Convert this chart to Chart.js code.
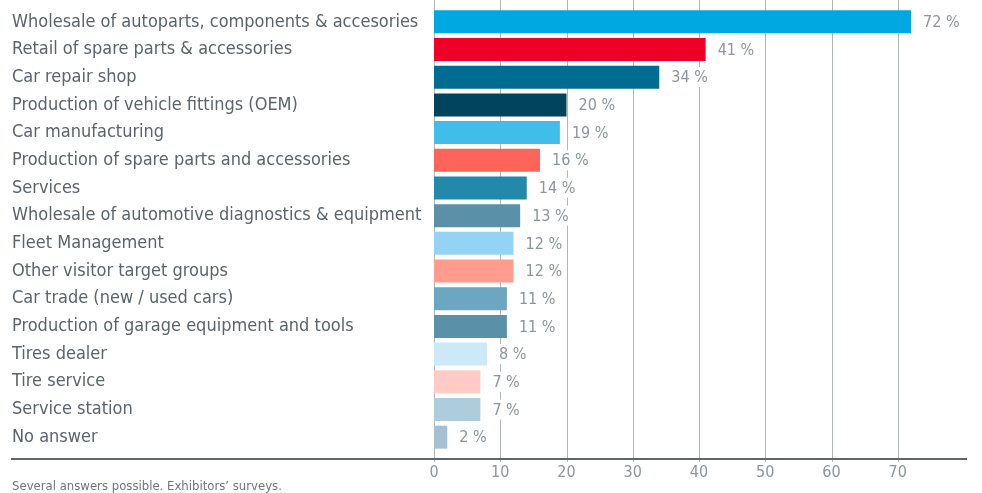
<!DOCTYPE html>
<html>
<head>
<meta charset="utf-8">
<script src="https://cdn.jsdelivr.net/npm/chart.js@4.4.1/dist/chart.umd.min.js"></script>
<style>
  html, body { margin: 0; padding: 0; background: #fff; }
  #wrap { width: 982px; height: 493px; position: relative; }
</style>
</head>
<body>
<div id="wrap"><canvas id="chart"></canvas></div>
<script>
const categories = [
    "Wholesale of autoparts, components & accesories",
    "Retail of spare parts & accessories",
    "Car repair shop",
    "Production of vehicle fittings (OEM)",
    "Car manufacturing",
    "Production of spare parts and accessories",
    "Services",
    "Wholesale of automotive diagnostics & equipment",
    "Fleet Management",
    "Other visitor target groups",
    "Car trade (new / used cars)",
    "Production of garage equipment and tools",
    "Tires dealer",
    "Tire service",
    "Service station",
    "No answer"
];
const shares = [72, 41, 34, 20, 19, 16, 14, 13, 12, 12, 11, 11, 8, 7, 7, 2];
const tickValues = [0, 10, 20, 30, 40, 50, 60, 70];
const footnote = "Several answers possible. Exhibitors’ surveys.";

const barColors = [
    "#00a8e1", "#ef0027", "#006c91", "#00445e", "#40bde9", "#ff645a",
    "#2389aa", "#5a91a8", "#94d3f2", "#ff9c8e", "#6ca6c1", "#5a91a8",
    "#cce9f7", "#ffcbc4", "#adccdc", "#a5c0d0"
];

const FONT = '"Liberation Sans Narrow", "DejaVu Sans Condensed", "Arial Narrow", sans-serif';

// grid lines, value labels, axis line and footnote
const decor = {
    id: "decor",
    beforeDatasetsDraw(chart) {
        const { ctx, scales: { x } } = chart;
        ctx.save();
        ctx.strokeStyle = "#b1b6ba";
        ctx.lineWidth = 1;
        x.ticks.forEach(t => {
            const px = Math.round(x.getPixelForValue(t.value)) + 0.5;
            ctx.beginPath();
            ctx.moveTo(px, 0);
            ctx.lineTo(px, chart.chartArea.bottom + 11);
            ctx.stroke();
        });
        ctx.restore();
    },
    afterDatasetsDraw(chart) {
        const { ctx, chartArea } = chart;
        const meta = chart.getDatasetMeta(0);
        ctx.save();
        ctx.font = `16px ${FONT}`;
        ctx.textBaseline = "middle";
        meta.data.forEach((bar, i) => {
            const txt = shares[i] + " %";
            const w = ctx.measureText(txt).width;
            const tx = bar.x + 12;
            ctx.fillStyle = "#fff";
            ctx.fillRect(tx - 3, bar.y - 10, w + 6, 20);
            ctx.fillStyle = "#8b959b";
            ctx.fillText(txt, tx, bar.y + 1);
        });

        ctx.strokeStyle = "#5c666b";
        ctx.lineWidth = 2;
        ctx.beginPath();
        ctx.moveTo(11, chartArea.bottom + 8);
        ctx.lineTo(chartArea.right + 3, chartArea.bottom + 8);
        ctx.stroke();

        ctx.font = `13px ${FONT}`;
        ctx.textBaseline = "alphabetic";
        ctx.fillStyle = "#6c767c";
        ctx.fillText(footnote, 12, 490);
        ctx.restore();
    }
};

new Chart(document.getElementById("chart"), {
    type: "bar",
    data: {
        labels: categories,
        datasets: [{
            data: shares,
            backgroundColor: barColors,
            categoryPercentage: 1,
            barPercentage: 0.83
        }]
    },
    options: {
        indexAxis: "y",
        responsive: true,
        maintainAspectRatio: false,
        animation: false,
        layout: { padding: { top: 8, left: 12, right: 18, bottom: 0 } },
        plugins: {
            legend: { display: false },
            tooltip: { enabled: false }
        },
        scales: {
            x: {
                type: "linear",
                min: 0,
                max: 80,
                grid: { display: false, drawTicks: false },
                border: { display: false },
                afterBuildTicks: scale => { scale.ticks = tickValues.map(v => ({ value: v })); },
                afterFit: scale => { scale.height = 42; },
                ticks: {
                    color: "#8b959b",
                    padding: 12,
                    font: { family: FONT, size: 16 }
                }
            },
            y: {
                grid: { display: false },
                border: { display: false },
                afterFit: scale => { scale.width = 422; },
                ticks: {
                    crossAlign: "far",
                    color: "#5a646a",
                    padding: 0,
                    font: { family: FONT, size: 18, lineHeight: 0.85 }
                }
            }
        }
    },
    plugins: [decor]
});
</script>
</body>
</html>
